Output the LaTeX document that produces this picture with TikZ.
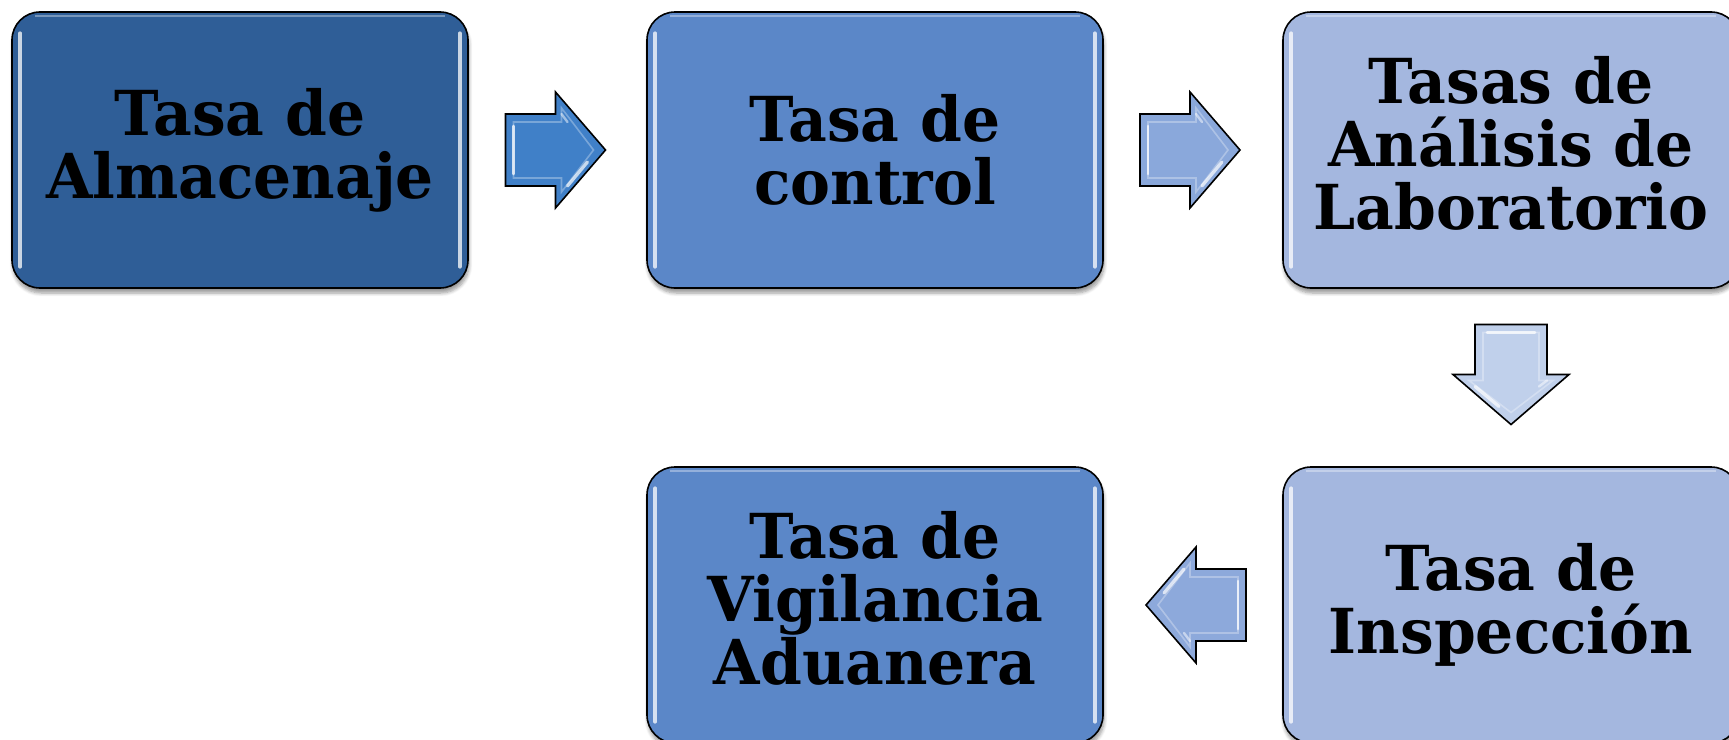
\documentclass[tikz,border=0pt]{standalone}
\usepackage{fontspec}
\newfontfamily\boxfont{DejaVu Serif}[FakeStretch=0.965]
\usetikzlibrary{calc,shadows.blur}
\definecolor{boxdark}{HTML}{2F5E97}
\definecolor{boxmid}{HTML}{5B87C8}
\definecolor{boxlight}{HTML}{A4B7DF}
\definecolor{arrA}{HTML}{4080C8}
\definecolor{arrB}{HTML}{8AA8DB}
\definecolor{arrC}{HTML}{C0D0EB}
\definecolor{arrD}{HTML}{8DA9DB}
\newcommand{\lowstrut}{\rule[-7pt]{0pt}{7pt}}
\tikzset{
  box/.style={draw=black, line width=0.8pt, rounded corners=14pt,
    minimum width=228pt, minimum height=138pt, inner sep=0pt, align=center,
    font=\boxfont\bfseries\fontsize{31pt}{31.5pt}\selectfont,
    blur shadow={shadow xshift=0.5pt, shadow yshift=-2.5pt, shadow blur steps=6, shadow opacity=40}},
  gloss/.style={white, opacity=0.75, line width=1.8pt, line cap=round},
  arrowshape/.style={draw=black, line width=0.8pt},
  blockarrow/.pic={
    \path[pic actions] (-50,-36) -- (0,-36) -- (0,-58) -- (50,0) -- (0,58) -- (0,36) -- (-50,36) -- cycle;
    \draw[white, opacity=0.3, line width=0.8pt] (-42,-28) -- (6,-28) -- (6,-42) -- (38,0) -- (6,42) -- (6,28) -- (-42,28) -- cycle;
    \draw[white, opacity=0.75, line width=1.4pt, line cap=round] (-42,-24) -- (-42,24);
    \draw[white, opacity=0.7, line width=1.6pt, line cap=round] (12,36) -- (32,12);
    \draw[white, opacity=0.5, line width=1.2pt, line cap=round] (6,-36) -- (12,-28);
  }
}
\newcommand{\glossbox}[1]{%
  \draw[gloss] ($(#1.north west)+(9,22)$) -- ($(#1.south west)+(9,-22)$);
  \draw[gloss] ($(#1.north east)+(-9,22)$) -- ($(#1.south east)+(-9,-22)$);
  \draw[white, opacity=0.35, line width=1.2pt] ($(#1.north west)+(24,5)$) -- ($(#1.north east)+(-24,5)$);
}
\begin{document}
\begin{tikzpicture}[x=0.5pt,y=-0.5pt]
\useasboundingbox (0,0) rectangle (1729,739);
\node[box, fill=boxdark] (b1) at (240,150) {Tasa de\\Almacenaje};
\node[box, fill=boxmid] (b2) at (875,150) {Tasa de\\control};
\node[box, fill=boxlight] (b3) at (1511,150) {Tasas de\\Análisis de\\Laboratorio\lowstrut};
\node[box, fill=boxlight] (b4) at (1511,605) {Tasa de\\Inspección};
\node[box, fill=boxmid] (b5) at (875,605) {Tasa de\\Vigilancia\\Aduanera\lowstrut};
\glossbox{b1}
\glossbox{b2}
\glossbox{b3}
\glossbox{b4}
\glossbox{b5}
\pic[arrowshape, fill=arrA] at ($(b1.east)!0.5!(b2.west)+(-2,0)$) {blockarrow};
\pic[arrowshape, fill=arrB] at ($(b2.east)!0.5!(b3.west)+(-3,0)$) {blockarrow};
\pic[arrowshape, fill=arrC, rotate=-90] at ($(b3.south)!0.5!(b4.north)+(0,-3)$) {blockarrow};
\pic[arrowshape, fill=arrD, rotate=180] at ($(b4.west)!0.5!(b5.east)+(3,0)$) {blockarrow};
\end{tikzpicture}
\end{document}
